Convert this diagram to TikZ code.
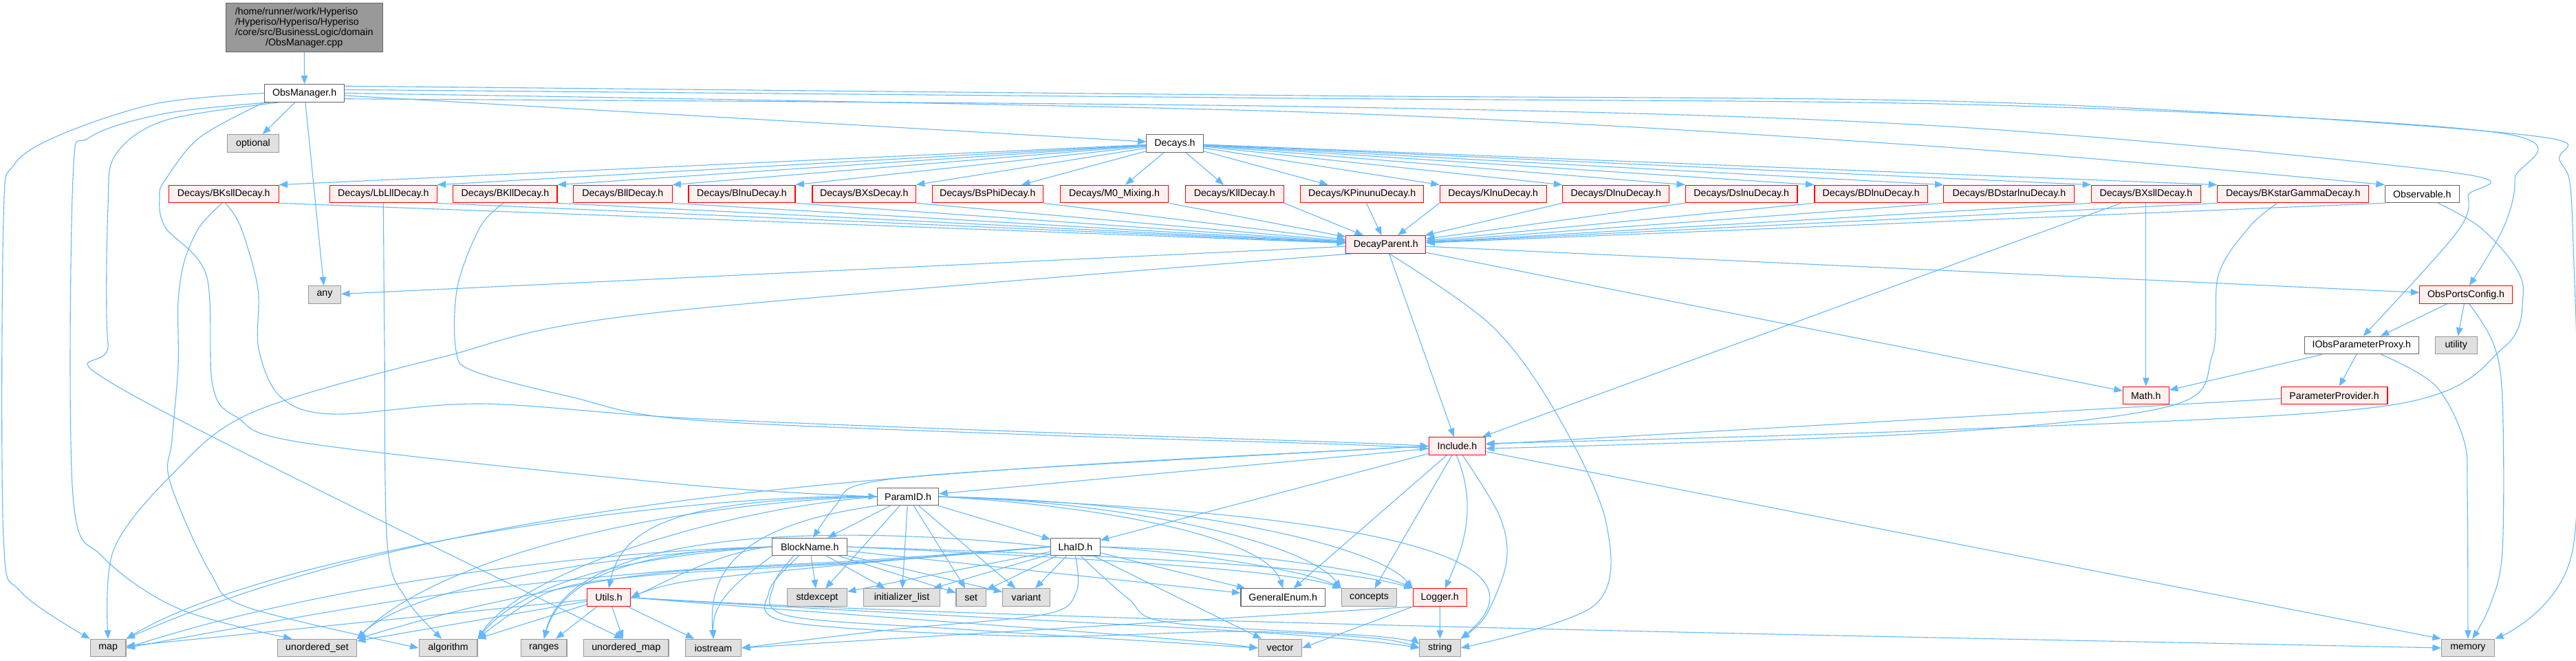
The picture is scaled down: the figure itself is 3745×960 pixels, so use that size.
\documentclass[tikz,border=0pt]{standalone}
\usepackage{fontspec}
\setmainfont{Liberation Sans}
\usepackage{calc}
\usetikzlibrary{arrows.meta}
\definecolor{edgec}{HTML}{63B8FF}
\definecolor{gfour}{HTML}{666666}
\definecolor{gsix}{HTML}{999999}
\definecolor{sysfill}{HTML}{E0E0E0}
\definecolor{redfill}{HTML}{FFF0F0}
\definecolor{redline}{HTML}{FF0000}
\newcommand\nodefont{\fontsize{7.1}{7.45}\selectfont}
\pgfdeclarelayer{bg}
\pgfsetlayers{bg,main}
\tikzset{
  nodebox/.style={draw, rectangle, inner sep=0pt, minimum height=12.8pt, font=\nodefont, line width=0.55pt, text=black},
  wbox/.style={nodebox, draw=gfour, fill=white},
  rbox/.style={nodebox, draw=redline, fill=redfill},
  sbox/.style={nodebox, draw=gsix, fill=sysfill},
  bw/.style={minimum width=#1*0.5pt},
  conn/.style={draw=edgec, line width=0.55pt, -{Triangle[length=6.2pt,width=4.8pt]}},
  sm/.style={smooth, tension=0.55},
}
\begin{document}
\begin{tikzpicture}[x=0.5pt,y=-0.5pt]
\path[use as bounding box] (0,0) rectangle (3745,960);
% ---------- nodes ----------
\node[nodebox, draw=gfour, fill=gsix, minimum width=113.9pt, minimum height=35.2pt, align=center] (root) at (442.2,40)
 {\makebox[\widthof{/core/src/BusinessLogic/domain}][l]{/home/runner/work/Hyperiso}\\
  \makebox[\widthof{/core/src/BusinessLogic/domain}][l]{/Hyperiso/Hyperiso/Hyperiso}\\
  /core/src/BusinessLogic/domain\\/ObsManager.cpp};
\node[wbox,bw=116] (obs) at (442.6,135.5) {ObsManager.h};
\node[sbox,bw=75.2] (optional) at (368,208.5) {optional};
\node[wbox,bw=82.2] (decays) at (1708,208.5) {Decays.h};
\node[rbox,bw=159.5] (bksll) at (325.3,282) {Decays/BKsllDecay.h};
\node[rbox,bw=155.6] (lblll) at (557.4,282) {Decays/LbLllDecay.h};
\node[rbox,bw=151.2] (bkll) at (734.4,282) {Decays/BKllDecay.h};
\node[rbox,bw=143.5] (bll) at (905.3,282) {Decays/BllDecay.h};
\node[rbox,bw=155] (blnu) at (1078.5,282) {Decays/BlnuDecay.h};
\node[rbox,bw=150.5] (bxs) at (1256.2,282) {Decays/BXsDecay.h};
\node[rbox,bw=161.3] (bsphi) at (1435.7,282) {Decays/BsPhiDecay.h};
\node[rbox,bw=157.5] (mzero) at (1620,282) {Decays/M0\_Mixing.h};
\node[rbox,bw=143.5] (kll) at (1794.8,282) {Decays/KllDecay.h};
\node[rbox,bw=179] (kpinunu) at (1980.2,282) {Decays/KPinunuDecay.h};
\node[rbox,bw=155] (klnu) at (2170.7,282) {Decays/KlnuDecay.h};
\node[rbox,bw=155] (dlnu) at (2349.3,282) {Decays/DlnuDecay.h};
\node[rbox,bw=162.6] (dslnu) at (2531.7,282) {Decays/DslnuDecay.h};
\node[rbox,bw=164.5] (bdlnu) at (2720.2,282) {Decays/BDlnuDecay.h};
\node[rbox,bw=190] (bdstar) at (2920.8,282) {Decays/BDstarlnuDecay.h};
\node[rbox,bw=158.5] (bxsll) at (3119.8,282) {Decays/BXsllDecay.h};
\node[rbox,bw=220] (bkstar) at (3333.7,282) {Decays/BKstarGammaDecay.h};
\node[wbox,bw=107.9] (observable) at (3521.3,282) {Observable.h};
\node[sbox,bw=47.2] (any) at (472,428.5) {any};
\node[rbox,bw=116] (dp) at (2014.8,355.5) {DecayParent.h};
\node[rbox,bw=134.4] (opc) at (3585,428.5) {ObsPortsConfig.h};
\node[wbox,bw=165.8] (iopp) at (3433.2,502) {IObsParameterProxy.h};
\node[sbox,bw=60.9] (utility) at (3570.7,502) {utility};
\node[rbox,bw=66.9] (math) at (3119.8,575) {Math.h};
\node[rbox,bw=154.9] (pp) at (3393.5,575) {ParameterProvider.h};
\node[rbox,bw=82.3] (inc) at (2118.5,648.5) {Include.h};
\node[wbox,bw=89.2] (pid) at (1320,722) {ParamID.h};
\node[wbox,bw=109] (bn) at (1177.3,795) {BlockName.h};
\node[wbox,bw=71.4] (lha) at (1563.5,795) {LhaID.h};
\node[rbox,bw=63.2] (utils) at (885,868.7) {Utils.h};
\node[sbox,bw=86.8] (stdexcept) at (1188,868.7) {stdexcept};
\node[sbox,bw=111] (initlist) at (1311,868.7) {initializer\_list};
\node[sbox,bw=43.4] (nset) at (1411.7,868.7) {set};
\node[sbox,bw=68.8] (variant) at (1492,868.7) {variant};
\node[wbox,bw=122.4] (genenum) at (1865.2,868.7) {GeneralEnum.h};
\node[sbox,bw=80.3] (concepts) at (1990.6,868.7) {concepts};
\node[rbox,bw=77.8] (logger) at (2093.2,868.7) {Logger.h};
\node[sbox,bw=51.6] (map) at (157.2,942) {map};
\node[sbox,bw=114.8] (uset) at (461,942) {unordered\_set};
\node[sbox,bw=84.9] (algorithm) at (651.5,942) {algorithm};
\node[sbox,bw=66.3] (ranges) at (790.8,942) {ranges};
\node[sbox,bw=123.1] (umap) at (910.4,942) {unordered\_map};
\node[sbox,bw=81] (iostream) at (1037,942) {iostream};
\node[sbox,bw=63.1] (vector) at (1861,942) {vector};
\node[sbox,bw=59.3] (string) at (2093.5,942) {string};
\node[sbox,bw=77.1] (memory) at (3587.9,942) {memory};
% ---------- edges ----------
\begin{pgfonlayer}{bg}
\fill[white] (0,0) rectangle (3745,960);
\draw[conn] (root) -- (obs);
% ObsManager.h
\draw[conn] (obs) -- (optional);
\draw[conn] (obs) -- (any);
\draw[conn] (obs) -- (decays);
\draw[conn] plot[sm] coordinates {(obs.west) (230,150) (90,195) (20,240) (5,320) (5,780) (30,860) (map.north west)};
\draw[conn] plot[sm] coordinates {(obs.195) (240,165) (130,200) (106,260) (106,720) (150,810) (260,885) (uset.160)};
\draw[conn] plot[sm] coordinates {(obs.200) (240,175) (168,225) (157,300) (157,500) (185,570) (umap.110)};
\draw[conn] plot[sm] coordinates {(obs.south west) (290,200) (240,262) (232,285) (240,330) (300,400) (309,560) (345,607) (450,645) (1000,705) (pid.west)};
\draw[conn] plot[sm] coordinates {(obs.east) (1900,163) (2800,212) (observable.north west)};
\draw[conn] plot[sm] coordinates {(obs.-8) (1900,155) (2800,182) (3560,250) (3588,285) (3570,340) (iopp.80)};
\draw[conn] plot[sm] coordinates {(obs.5) (1900,143) (2900,153) (3632,193) (3656,260) (3640,330) (opc.70)};
\draw[conn] plot[sm] coordinates {(obs.10) (1900,139) (2900,149) (3660,195) (3722,235) (3740,330) (3740,800) (memory.north east)};
% Decays.h
\draw[conn] (decays) -- (bksll.north east);
\draw[conn] (decays) -- (lblll.north east);
\draw[conn] (decays) -- (bkll.north east);
\draw[conn] (decays) -- (bll.north east);
\draw[conn] (decays) -- (blnu.north east);
\draw[conn] (decays) -- (bxs.north east);
\draw[conn] (decays) -- (bsphi);
\draw[conn] (decays) -- (mzero);
\draw[conn] (decays) -- (kll);
\draw[conn] (decays) -- (kpinunu);
\draw[conn] (decays) -- (klnu.north west);
\draw[conn] (decays) -- (dlnu.north west);
\draw[conn] (decays) -- (dslnu.north west);
\draw[conn] (decays) -- (bdlnu.north west);
\draw[conn] (decays) -- (bdstar.north west);
\draw[conn] (decays) -- (bxsll.north west);
\draw[conn] (decays) -- (bkstar.north west);
% decays -> DecayParent
\foreach \n in {bksll,lblll,bkll,bll,blnu,bxs,bsphi,mzero,kll}
  \draw[conn] (\n.south east) -- (dp);
\draw[conn] (kpinunu) -- (dp);
\foreach \n in {klnu,dlnu,dslnu,bdlnu,bdstar,bxsll,bkstar,observable}
  \draw[conn] (\n.south west) -- (dp);
% special decay edges
\draw[conn] plot[sm] coordinates {(bksll.-100) (290,330) (268,380) (259,440) (259,533) (250,640) (247,700) (306,833) (360,883) (algorithm.west)};
\draw[conn] plot[sm] coordinates {(bksll.-80) (350,330) (375,420) (376,507) (408,577) (485,602) (700,587) (1000,608) (1500,628) (1950,643) (inc.west)};
\draw[conn] plot[sm] coordinates {(lblll.south) (559,500) (563,790) (590,870) (algorithm.125)};
\draw[conn] plot[sm] coordinates {(bkll.-100) (698,330) (665,417) (663,510) (690,540) (830,577) (1000,610) (1500,632) (1950,646) (inc.185)};
\draw[conn] (bxsll) -- (math);
\draw[conn] (bxsll) -- (inc);
\draw[conn] plot[sm] coordinates {(bkstar.-150) (3270,330) (3225,400) (3216,517) (3156,590) (2800,630) (inc.-5)};
\draw[conn] plot[sm] coordinates {(observable.-30) (3605,330) (3655,385) (3668,430) (3640,505) (3469,590) (2800,626) (inc.5)};
% DecayParent.h
\draw[conn] (dp) -- (any);
\draw[conn] plot[sm] coordinates {(dp.195) (950,455) (640,520) (366,600) (250,690) (165,800) (map.north)};
\draw[conn] (dp) -- (inc);
\draw[conn] plot[sm] coordinates {(dp.-70) (2168,473) (2262,600) (2335,760) (2318,880) (string.east)};
\draw[conn] (dp) -- (opc);
\draw[conn] (dp) -- (math);
% ObsPortsConfig / IObsParameterProxy / ParameterProvider
\draw[conn] (opc) -- (iopp);
\draw[conn] (opc) -- (utility);
\draw[conn] plot[sm] coordinates {(opc.-70) (3625,500) (3638,580) (3638,800) (3620,880) (memory.65)};
\draw[conn] (iopp) -- (math);
\draw[conn] (iopp) -- (pp);
\draw[conn] plot[sm] coordinates {(iopp.-25) (3540,560) (3582,640) (3587,720) (memory.north)};
\draw[conn] (pp) -- (inc);
% Include.h
\draw[conn] (inc) -- (memory.north west);
\draw[conn] plot[sm] coordinates {(inc.-60) (2180,750) (2190,817) (2160,895) (string.north east)};
\draw[conn] (inc.-95) .. controls (2150,740) and (2125,800) .. (logger.60);
\draw[conn] (inc) -- (concepts);
\draw[conn] (inc) -- (genenum);
\draw[conn] (inc) -- (lha);
\draw[conn] (inc) -- (pid);
\draw[conn] plot[sm] coordinates {(inc.west) (1460,683) (1256,703) (1215,735) (bn.70)};
\draw[conn] (inc.west) .. controls (1500,680) and (700,700) .. (map.north east);
% ParamID.h
\draw[conn] (pid) -- (bn);
\draw[conn] (pid) -- (lha);
\draw[conn] (pid) -- (stdexcept);
\draw[conn] (pid) -- (initlist);
\draw[conn] (pid) -- (nset);
\draw[conn] (pid) -- (variant);
\draw[conn] (pid.east) .. controls (1600,735) and (1840,780) .. (genenum.north);
\draw[conn] (pid.east) .. controls (1650,730) and (1900,790) .. (concepts.north west);
\draw[conn] (pid.east) .. controls (1700,728) and (2000,790) .. (logger.north west);
\draw[conn] (pid.east) .. controls (1800,740) and (2300,780) .. (string.north east);
\draw[conn] (pid.west) .. controls (1000,725) and (905,760) .. (utils.north);
\draw[conn] (pid.west) .. controls (1000,716) and (400,800) .. (map.north east);
\draw[conn] (pid.west) .. controls (1000,730) and (650,800) .. (uset.north east);
\draw[conn] (pid.west) .. controls (1050,740) and (760,830) .. (algorithm.north east);
\draw[conn] (pid.south west) .. controls (1060,765) and (1030,840) .. (iostream.north);
% BlockName.h
\draw[conn] (bn) -- (stdexcept);
\draw[conn] (bn) -- (initlist);
\draw[conn] (bn) -- (nset);
\draw[conn] (bn) -- (variant);
\draw[conn] (bn) -- (genenum);
\draw[conn] (bn.east) .. controls (1600,812) and (1880,830) .. (concepts.north west);
\draw[conn] (bn.east) .. controls (1650,808) and (1950,825) .. (logger.north west);
\draw[conn] (bn.west) .. controls (1050,800) and (960,850) .. (utils.east);
\draw[conn] (bn.west) .. controls (900,800) and (500,840) .. (map.east);
\draw[conn] (bn.west) .. controls (900,805) and (600,850) .. (uset.north east);
\draw[conn] (bn.west) .. controls (900,810) and (760,850) .. (algorithm.north east);
\draw[conn] (bn.west) .. controls (950,800) and (820,830) .. (ranges.north);
\draw[conn] (bn.south west) .. controls (1080,840) and (1035,870) .. (iostream.north);
\draw[conn] plot[sm] coordinates {(bn.-150) (1125,850) (1145,895) (1400,915) (vector.west)};
\draw[conn] plot[sm] coordinates {(bn.-140) (1118,860) (1150,905) (1500,925) (1800,918) (2000,928) (string.west)};
% LhaID.h
\draw[conn] (lha) -- (stdexcept);
\draw[conn] (lha) -- (initlist);
\draw[conn] (lha) -- (nset);
\draw[conn] (lha) -- (variant);
\draw[conn] (lha) -- (genenum);
\draw[conn] (lha.east) .. controls (1750,805) and (1900,830) .. (concepts.north west);
\draw[conn] (lha.east) .. controls (1800,800) and (2000,830) .. (logger.north west);
\draw[conn] (lha) -- (vector);
\draw[conn] plot[sm] coordinates {(lha.south) (1565,860) (1520,893) (1300,915) (iostream.east)};
\draw[conn] plot[sm] coordinates {(lha.-60) (1640,870) (1700,905) (2000,925) (string.170)};
\draw[conn] plot[sm] coordinates {(lha.west) (1250,815) (950,832) (600,870) (map.east)};
\draw[conn] plot[sm] coordinates {(lha.west) (1250,817) (950,834) (700,880) (uset.north east)};
\draw[conn] plot[sm] coordinates {(lha.west) (1250,818) (950,836) (800,860) (algorithm.north east)};
\draw[conn] plot[sm] coordinates {(lha.west) (1250,819) (1000,845) (utils.east)};
\draw[conn] (lha.west) .. controls (1200,760) and (830,770) .. (ranges.north);
% Utils.h
\draw[conn] (utils) -- (map);
\draw[conn] (utils) -- (uset);
\draw[conn] (utils) -- (algorithm);
\draw[conn] (utils) -- (ranges);
\draw[conn] (utils) -- (umap);
\draw[conn] (utils) -- (iostream);
\draw[conn] (utils.east) .. controls (1300,900) and (1700,925) .. (vector.west);
\draw[conn] (utils.east) .. controls (1400,900) and (1900,915) .. (string.west);
\draw[conn] (utils.east) .. controls (1500,905) and (3000,930) .. (memory.west);
% Logger.h
\draw[conn] (logger) -- (string);
\draw[conn] (logger.south west) -- (iostream.east);
\draw[conn] (logger.south west) -- (vector.east);
\end{pgfonlayer}
\end{tikzpicture}
\end{document}
